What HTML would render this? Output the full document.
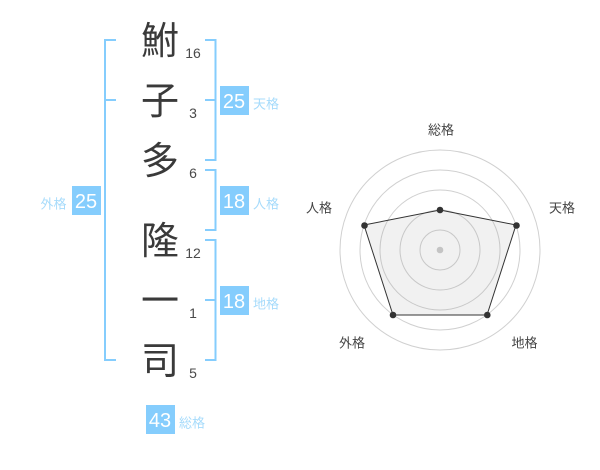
<!DOCTYPE html>
<html><head><meta charset="utf-8"><style>
html,body{margin:0;padding:0;background:#fff}
svg{display:block}
text{font-family:"Liberation Sans","WenQuanYi Zen Hei","Noto Sans CJK JP",sans-serif}
.k{font-size:38px;fill:#3a3a3a;text-anchor:middle}
.n{font-size:14px;fill:#4a4a4a;text-anchor:middle}
.b{font-size:20px;fill:#fff;text-anchor:middle}
.l{font-size:13px;fill:#a6dbfb;text-anchor:middle}
.r{font-size:13px;fill:#444;text-anchor:middle}
</style></head><body>
<svg width="600" height="470" viewBox="0 0 600 470" xmlns="http://www.w3.org/2000/svg">
<g fill="none" stroke="#85cdfd" stroke-width="2">
<path d="M116 40H105V360H116M105 100H116"/>
<path d="M205 40H215.500V160H205M205 100H215.500"/>
<path d="M205 170H215.500V230H205"/>
<path d="M205 240H215.500V360H205M205 300H215.500"/>
</g>
<text class="k" x="160" y="54">鮒</text>
<text class="k" x="160" y="114">子</text>
<text class="k" x="160" y="174">多</text>
<text class="k" x="160" y="254">隆</text>
<text class="k" x="160" y="314">一</text>
<text class="k" x="160" y="374">司</text>
<text class="n" x="193" y="58">16</text>
<text class="n" x="193" y="118">3</text>
<text class="n" x="193" y="178">6</text>
<text class="n" x="193" y="258">12</text>
<text class="n" x="193" y="318">1</text>
<text class="n" x="193" y="378">5</text>
<g fill="#85cdfd">
<rect x="220" y="86" width="29" height="29"/>
<rect x="220" y="186" width="29" height="29"/>
<rect x="220" y="286" width="29" height="29"/>
<rect x="72" y="186" width="29" height="29"/>
<rect x="146" y="405" width="29" height="29"/>
</g>
<text class="b" x="234" y="108">25</text>
<text class="b" x="234" y="208">18</text>
<text class="b" x="234" y="308">18</text>
<text class="b" x="86" y="208">25</text>
<text class="b" x="160" y="427">43</text>
<text class="l" x="266" y="108.500">天格</text>
<text class="l" x="266" y="208.500">人格</text>
<text class="l" x="266" y="308.500">地格</text>
<text class="l" x="53.500" y="208.500">外格</text>
<text class="l" x="192" y="427.500">総格</text>
<g fill="none" stroke="#d0d0d0" stroke-width="1">
<circle cx="440" cy="250" r="20"/>
<circle cx="440" cy="250" r="40"/>
<circle cx="440" cy="250" r="60"/>
<circle cx="440" cy="250" r="80"/>
<circle cx="440" cy="250" r="100"/>
</g>
<polygon points="440,210 516,225 487,315 393,315 364,225" fill="#999" fill-opacity=".14" stroke="#333" stroke-width="1"/>
<circle cx="440" cy="250" r="3.300" fill="#c4c4c4"/>
<g fill="#333">
<circle cx="440" cy="210" r="3.300"/>
<circle cx="516.500" cy="225.500" r="3.300"/>
<circle cx="487.300" cy="315" r="3.300"/>
<circle cx="393" cy="315" r="3.300"/>
<circle cx="364.500" cy="225.500" r="3.300"/>
</g>
<text class="r" x="441" y="134.500">総格</text>
<text class="r" x="562" y="212.500">天格</text>
<text class="r" x="524.500" y="347.500">地格</text>
<text class="r" x="352" y="347.500">外格</text>
<text class="r" x="319" y="212.500">人格</text>
</svg>
</body></html>
